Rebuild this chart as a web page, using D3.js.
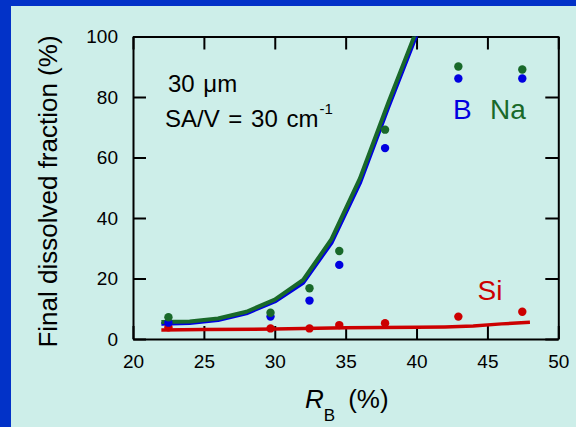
<!DOCTYPE html>
<html>
<head>
<meta charset="utf-8">
<script src="https://cdn.jsdelivr.net/npm/d3@7"></script>
<style>
  html, body { margin: 0; padding: 0; background: #0232c8; }
  svg { display: block; }
  text { font-family: "Liberation Sans", Arial, sans-serif; }
</style>
</head>
<body>
<svg id="chart" width="576" height="427"></svg>
<script>
// Boron content R_B (%) of the glasses and measured final dissolved fractions (%)
const measuredRB = [22.5, 29.7, 32.45, 34.55, 37.78, 42.95, 47.46];
const measuredB  = [5.4, 7.4, 12.7, 24.5, 63.1, 86.1, 86.1];
const measuredNa = [7.2, 8.7, 16.8, 29.1, 69.2, 90.1, 89.1];
const measuredSi = [3.9, 3.5, 3.5, 4.6, 5.2, 7.4, 9.0];

// Model curves
const modelRB   = [22, 24, 26, 28, 30, 32, 34, 36, 38, 40];
const modelB    = [5.0, 5.3, 6.3, 8.5, 12.4, 18.6, 31.8, 51.5, 76.5, 100.5];
const modelNa   = [5.6, 5.8, 6.8, 9.0, 13.0, 19.5, 33.0, 53.0, 78.0, 102.0];
const modelSiRB = [22, 25, 30, 35, 40, 42, 44, 46, 48];
const modelSi   = [3.0, 3.1, 3.3, 3.7, 3.9, 4.0, 4.3, 5.0, 5.5];

const xTicks = [20, 25, 30, 35, 40, 45, 50];
const yTicks = [0, 20, 40, 60, 80, 100];

const colB = "#0000e0", colNa = "#19692a", colSi = "#cc0000";

const svg = d3.select("#chart");

// light panel inside the blue frame
svg.append("rect").attr("x", 11).attr("y", 6).attr("width", 576 - 11).attr("height", 427 - 6)
  .attr("fill", "#cdeee9");

const x = d3.scaleLinear().domain([20, 50]).range([133, 558.3]);
const y = d3.scaleLinear().domain([0, 100]).range([339, 36.5]);

svg.append("clipPath").attr("id", "plotClip").append("rect")
  .attr("x", x(20)).attr("y", y(100)).attr("width", x(50) - x(20)).attr("height", y(0) - y(100));

const tickLen = 13;
function styleAxis(g) {
  g.select(".domain").attr("stroke", "#000").attr("stroke-width", 2);
  g.selectAll(".tick line").attr("stroke", "#000").attr("stroke-width", 2);
  g.selectAll(".tick text").attr("fill", "#000").style("font-size", "19px")
    .style("font-family", "'Liberation Sans', Arial, sans-serif");
}

// bottom axis, ticks pointing inward
svg.append("g").attr("transform", `translate(0,${y(0)})`)
  .call(d3.axisBottom(x).tickValues(xTicks).tickSizeInner(-tickLen).tickSizeOuter(0).tickPadding(16))
  .call(styleAxis)
  .call(g => g.selectAll(".tick text").attr("dy", "0.71em"));

// top axis
svg.append("g").attr("transform", `translate(0,${y(100)})`)
  .call(d3.axisTop(x).tickValues(xTicks).tickSizeInner(-tickLen).tickSizeOuter(0).tickFormat(""))
  .call(styleAxis);

// left axis
svg.append("g").attr("transform", `translate(${x(20)},0)`)
  .call(d3.axisLeft(y).tickValues(yTicks).tickSizeInner(-tickLen).tickSizeOuter(0).tickPadding(15))
  .call(styleAxis);

// right axis
svg.append("g").attr("transform", `translate(${x(50)},0)`)
  .call(d3.axisRight(y).tickValues(yTicks).tickSizeInner(-tickLen).tickSizeOuter(0).tickFormat(""))
  .call(styleAxis);

const plot = svg.append("g").attr("clip-path", "url(#plotClip)");
const line = d3.line().x(d => x(d[0])).y(d => y(d[1]));

plot.append("path").datum(d3.zip(modelSiRB, modelSi)).attr("d", line)
  .attr("fill", "none").attr("stroke", colSi).attr("stroke-width", 3.5);
plot.append("path").datum(d3.zip(modelRB, modelB)).attr("d", line)
  .attr("fill", "none").attr("stroke", colB).attr("stroke-width", 4).attr("stroke-linejoin", "round");
plot.append("path").datum(d3.zip(modelRB, modelNa)).attr("d", line)
  .attr("fill", "none").attr("stroke", colNa).attr("stroke-width", 4).attr("stroke-linejoin", "round");

function dots(vals, color) {
  svg.append("g").selectAll("circle").data(d3.zip(measuredRB, vals)).join("circle")
    .attr("cx", d => x(d[0])).attr("cy", d => y(d[1])).attr("r", 4.2).attr("fill", color);
}
dots(measuredSi, colSi);
dots(measuredB, colB);
dots(measuredNa, colNa);

// annotations
svg.append("text").attr("x", 168).attr("y", 91.5).style("font-size", "24px").style("word-spacing", "2px")
  .attr("fill", "#000").text("30 μm");
const sa = svg.append("text").attr("x", 165).attr("y", 127).style("font-size", "24px")
  .style("word-spacing", "2px").attr("fill", "#000");
sa.append("tspan").text("SA/V = 30 cm");
sa.append("tspan").attr("dy", -13).attr("dx", 1).style("font-size", "15px").text("-1");

svg.append("text").attr("x", 453).attr("y", 119).style("font-size", "28px").attr("fill", colB).text("B");
svg.append("text").attr("x", 490).attr("y", 119).style("font-size", "28px").attr("fill", colNa).text("Na");
svg.append("text").attr("x", 477.5).attr("y", 300).style("font-size", "28px").attr("fill", colSi).text("Si");

// axis titles
const xt = svg.append("text").attr("x", 305).attr("y", 408).style("font-size", "26px").attr("fill", "#000");
xt.append("tspan").style("font-style", "italic").text("R");
xt.append("tspan").attr("dy", 13).style("font-size", "17px").text("B");
xt.append("tspan").attr("dy", -13).attr("dx", 13).text("(%)");

svg.append("text").attr("transform", `translate(56.5,${(33 + 350) / 2}) rotate(-90)`)
  .attr("text-anchor", "middle").style("font-size", "26px").attr("fill", "#000")
  .text("Final dissolved fraction (%)");
</script>
</body>
</html>
